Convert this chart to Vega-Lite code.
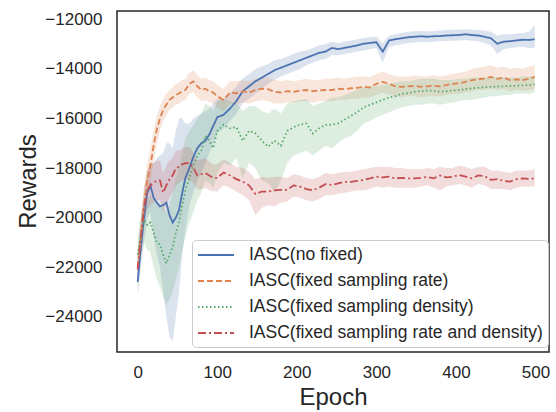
{
"$schema": "https://vega.github.io/schema/vega-lite/v6.json",
"width": 432, "height": 341,
"autosize": "none",
"padding": {"left": 117, "top": 11, "right": 7, "bottom": 60},
"background": "white",
"config": {
  "view": {"stroke": "#262626", "strokeWidth": 1.5},
  "font": "Liberation Sans",
  "axis": {"grid": false, "domain": false, "ticks": false, "labelFont": "Liberation Sans", "labelFontSize": 17, "labelColor": "#262626", "titleFont": "Liberation Sans", "titleFontSize": 24, "titleFontWeight": "normal", "titleColor": "#262626"},
  "legend": {"labelFont": "Liberation Sans", "orient": "none", "legendX": 75, "legendY": 229, "title": null, "symbolType": "M-1,0H3", "symbolSize": 324, "symbolStrokeWidth": 2, "symbolOpacity": 1, "labelFontSize": 17.5, "labelColor": "#262626", "labelLimit": 400, "fillColor": "rgba(255,255,255,0.85)", "strokeColor": "#cccccc", "cornerRadius": 4, "padding": 5, "rowPadding": 7, "labelOffset": 32}
},
"data": {"values": [
{"s":"IASC(no fixed)","e":0,"m":-22600,"l":-23200,"h":-22000},
{"s":"IASC(no fixed)","e":4,"m":-21200,"l":-22000,"h":-20500},
{"s":"IASC(no fixed)","e":8,"m":-20000,"l":-21000,"h":-19200},
{"s":"IASC(no fixed)","e":12,"m":-19000,"l":-20000,"h":-18200},
{"s":"IASC(no fixed)","e":16,"m":-18700,"l":-19800,"h":-17800},
{"s":"IASC(no fixed)","e":20,"m":-19200,"l":-20800,"h":-17800},
{"s":"IASC(no fixed)","e":24,"m":-19400,"l":-21500,"h":-17600},
{"s":"IASC(no fixed)","e":28,"m":-19550,"l":-22000,"h":-17500},
{"s":"IASC(no fixed)","e":32,"m":-19500,"l":-23000,"h":-17400},
{"s":"IASC(no fixed)","e":36,"m":-19400,"l":-24000,"h":-17000},
{"s":"IASC(no fixed)","e":40,"m":-19900,"l":-24800,"h":-17000},
{"s":"IASC(no fixed)","e":44,"m":-20200,"l":-25000,"h":-17200},
{"s":"IASC(no fixed)","e":48,"m":-20000,"l":-24000,"h":-16500},
{"s":"IASC(no fixed)","e":52,"m":-19700,"l":-23000,"h":-16000},
{"s":"IASC(no fixed)","e":56,"m":-19000,"l":-21500,"h":-16000},
{"s":"IASC(no fixed)","e":60,"m":-18400,"l":-20500,"h":-16200},
{"s":"IASC(no fixed)","e":65,"m":-18000,"l":-19500,"h":-16200},
{"s":"IASC(no fixed)","e":70,"m":-17550,"l":-19000,"h":-16000},
{"s":"IASC(no fixed)","e":75,"m":-17200,"l":-18500,"h":-15900},
{"s":"IASC(no fixed)","e":80,"m":-17000,"l":-18200,"h":-15800},
{"s":"IASC(no fixed)","e":85,"m":-16900,"l":-17800,"h":-15700},
{"s":"IASC(no fixed)","e":90,"m":-16650,"l":-17400,"h":-15600},
{"s":"IASC(no fixed)","e":95,"m":-16300,"l":-17000,"h":-15400},
{"s":"IASC(no fixed)","e":100,"m":-15950,"l":-16600,"h":-15200},
{"s":"IASC(no fixed)","e":108,"m":-15850,"l":-16400,"h":-15200},
{"s":"IASC(no fixed)","e":116,"m":-15600,"l":-16100,"h":-15000},
{"s":"IASC(no fixed)","e":124,"m":-15300,"l":-15800,"h":-14700},
{"s":"IASC(no fixed)","e":132,"m":-14900,"l":-15400,"h":-14400},
{"s":"IASC(no fixed)","e":140,"m":-14700,"l":-15200,"h":-14200},
{"s":"IASC(no fixed)","e":148,"m":-14500,"l":-15000,"h":-14000},
{"s":"IASC(no fixed)","e":156,"m":-14350,"l":-14800,"h":-13900},
{"s":"IASC(no fixed)","e":164,"m":-14200,"l":-14600,"h":-13800},
{"s":"IASC(no fixed)","e":172,"m":-14050,"l":-14450,"h":-13650},
{"s":"IASC(no fixed)","e":180,"m":-13950,"l":-14300,"h":-13600},
{"s":"IASC(no fixed)","e":188,"m":-13850,"l":-14200,"h":-13500},
{"s":"IASC(no fixed)","e":196,"m":-13750,"l":-14100,"h":-13400},
{"s":"IASC(no fixed)","e":204,"m":-13650,"l":-14000,"h":-13300},
{"s":"IASC(no fixed)","e":212,"m":-13550,"l":-13850,"h":-13250},
{"s":"IASC(no fixed)","e":220,"m":-13450,"l":-13750,"h":-13150},
{"s":"IASC(no fixed)","e":228,"m":-13350,"l":-13650,"h":-13050},
{"s":"IASC(no fixed)","e":236,"m":-13300,"l":-13600,"h":-13000},
{"s":"IASC(no fixed)","e":244,"m":-13150,"l":-13450,"h":-12900},
{"s":"IASC(no fixed)","e":252,"m":-13200,"l":-13450,"h":-12950},
{"s":"IASC(no fixed)","e":260,"m":-13150,"l":-13400,"h":-12900},
{"s":"IASC(no fixed)","e":268,"m":-13100,"l":-13350,"h":-12850},
{"s":"IASC(no fixed)","e":276,"m":-13050,"l":-13300,"h":-12800},
{"s":"IASC(no fixed)","e":284,"m":-12980,"l":-13250,"h":-12750},
{"s":"IASC(no fixed)","e":292,"m":-12950,"l":-13200,"h":-12720},
{"s":"IASC(no fixed)","e":300,"m":-12920,"l":-13150,"h":-12700},
{"s":"IASC(no fixed)","e":308,"m":-13300,"l":-13750,"h":-12950},
{"s":"IASC(no fixed)","e":316,"m":-12850,"l":-13100,"h":-12650},
{"s":"IASC(no fixed)","e":324,"m":-12800,"l":-13050,"h":-12600},
{"s":"IASC(no fixed)","e":332,"m":-12760,"l":-13000,"h":-12550},
{"s":"IASC(no fixed)","e":340,"m":-12720,"l":-12950,"h":-12500},
{"s":"IASC(no fixed)","e":348,"m":-12700,"l":-12930,"h":-12480},
{"s":"IASC(no fixed)","e":356,"m":-12680,"l":-12900,"h":-12470},
{"s":"IASC(no fixed)","e":364,"m":-12700,"l":-12920,"h":-12480},
{"s":"IASC(no fixed)","e":372,"m":-12680,"l":-12900,"h":-12470},
{"s":"IASC(no fixed)","e":380,"m":-12670,"l":-12880,"h":-12450},
{"s":"IASC(no fixed)","e":388,"m":-12650,"l":-12870,"h":-12430},
{"s":"IASC(no fixed)","e":396,"m":-12640,"l":-12860,"h":-12420},
{"s":"IASC(no fixed)","e":404,"m":-12630,"l":-12850,"h":-12420},
{"s":"IASC(no fixed)","e":412,"m":-12600,"l":-12830,"h":-12400},
{"s":"IASC(no fixed)","e":420,"m":-12630,"l":-12860,"h":-12420},
{"s":"IASC(no fixed)","e":428,"m":-12650,"l":-12880,"h":-12430},
{"s":"IASC(no fixed)","e":436,"m":-12700,"l":-12950,"h":-12460},
{"s":"IASC(no fixed)","e":444,"m":-12760,"l":-13050,"h":-12500},
{"s":"IASC(no fixed)","e":452,"m":-12980,"l":-13400,"h":-12650},
{"s":"IASC(no fixed)","e":460,"m":-12900,"l":-13200,"h":-12600},
{"s":"IASC(no fixed)","e":468,"m":-12880,"l":-13150,"h":-12600},
{"s":"IASC(no fixed)","e":476,"m":-12850,"l":-13120,"h":-12580},
{"s":"IASC(no fixed)","e":484,"m":-12820,"l":-13100,"h":-12550},
{"s":"IASC(no fixed)","e":492,"m":-12830,"l":-13150,"h":-12500},
{"s":"IASC(no fixed)","e":499,"m":-12800,"l":-13150,"h":-12250},
{"s":"IASC(fixed sampling rate)","e":0,"m":-22000,"l":-22600,"h":-21400},
{"s":"IASC(fixed sampling rate)","e":4,"m":-20800,"l":-21500,"h":-20100},
{"s":"IASC(fixed sampling rate)","e":8,"m":-19500,"l":-20200,"h":-18800},
{"s":"IASC(fixed sampling rate)","e":12,"m":-18500,"l":-19200,"h":-17800},
{"s":"IASC(fixed sampling rate)","e":16,"m":-17900,"l":-18600,"h":-17200},
{"s":"IASC(fixed sampling rate)","e":20,"m":-17100,"l":-17800,"h":-16500},
{"s":"IASC(fixed sampling rate)","e":24,"m":-16450,"l":-17000,"h":-15900},
{"s":"IASC(fixed sampling rate)","e":28,"m":-16000,"l":-16500,"h":-15500},
{"s":"IASC(fixed sampling rate)","e":32,"m":-15650,"l":-16100,"h":-15200},
{"s":"IASC(fixed sampling rate)","e":36,"m":-15450,"l":-15900,"h":-15000},
{"s":"IASC(fixed sampling rate)","e":40,"m":-15250,"l":-15650,"h":-14850},
{"s":"IASC(fixed sampling rate)","e":44,"m":-15150,"l":-15550,"h":-14750},
{"s":"IASC(fixed sampling rate)","e":48,"m":-15050,"l":-15450,"h":-14600},
{"s":"IASC(fixed sampling rate)","e":52,"m":-14980,"l":-15400,"h":-14550},
{"s":"IASC(fixed sampling rate)","e":56,"m":-14900,"l":-15300,"h":-14450},
{"s":"IASC(fixed sampling rate)","e":60,"m":-14850,"l":-15250,"h":-14400},
{"s":"IASC(fixed sampling rate)","e":65,"m":-14600,"l":-15000,"h":-14150},
{"s":"IASC(fixed sampling rate)","e":70,"m":-14500,"l":-14950,"h":-14050},
{"s":"IASC(fixed sampling rate)","e":75,"m":-14700,"l":-15150,"h":-14250},
{"s":"IASC(fixed sampling rate)","e":80,"m":-14850,"l":-15300,"h":-14400},
{"s":"IASC(fixed sampling rate)","e":85,"m":-14800,"l":-15250,"h":-14350},
{"s":"IASC(fixed sampling rate)","e":90,"m":-14900,"l":-15350,"h":-14450},
{"s":"IASC(fixed sampling rate)","e":95,"m":-14950,"l":-15400,"h":-14500},
{"s":"IASC(fixed sampling rate)","e":100,"m":-15100,"l":-15550,"h":-14650},
{"s":"IASC(fixed sampling rate)","e":108,"m":-15250,"l":-15700,"h":-14800},
{"s":"IASC(fixed sampling rate)","e":116,"m":-14950,"l":-15400,"h":-14500},
{"s":"IASC(fixed sampling rate)","e":124,"m":-14980,"l":-15450,"h":-14500},
{"s":"IASC(fixed sampling rate)","e":132,"m":-14900,"l":-15350,"h":-14450},
{"s":"IASC(fixed sampling rate)","e":140,"m":-14950,"l":-15400,"h":-14500},
{"s":"IASC(fixed sampling rate)","e":148,"m":-14850,"l":-15300,"h":-14400},
{"s":"IASC(fixed sampling rate)","e":156,"m":-14800,"l":-15250,"h":-14350},
{"s":"IASC(fixed sampling rate)","e":164,"m":-14820,"l":-15300,"h":-14350},
{"s":"IASC(fixed sampling rate)","e":172,"m":-14920,"l":-15400,"h":-14450},
{"s":"IASC(fixed sampling rate)","e":180,"m":-14950,"l":-15400,"h":-14500},
{"s":"IASC(fixed sampling rate)","e":188,"m":-14900,"l":-15350,"h":-14450},
{"s":"IASC(fixed sampling rate)","e":196,"m":-14920,"l":-15350,"h":-14500},
{"s":"IASC(fixed sampling rate)","e":204,"m":-14880,"l":-15300,"h":-14450},
{"s":"IASC(fixed sampling rate)","e":212,"m":-14850,"l":-15300,"h":-14400},
{"s":"IASC(fixed sampling rate)","e":220,"m":-14900,"l":-15350,"h":-14450},
{"s":"IASC(fixed sampling rate)","e":228,"m":-14870,"l":-15300,"h":-14450},
{"s":"IASC(fixed sampling rate)","e":236,"m":-14850,"l":-15300,"h":-14400},
{"s":"IASC(fixed sampling rate)","e":244,"m":-14850,"l":-15300,"h":-14400},
{"s":"IASC(fixed sampling rate)","e":252,"m":-14800,"l":-15250,"h":-14350},
{"s":"IASC(fixed sampling rate)","e":260,"m":-14820,"l":-15250,"h":-14400},
{"s":"IASC(fixed sampling rate)","e":268,"m":-14780,"l":-15200,"h":-14350},
{"s":"IASC(fixed sampling rate)","e":276,"m":-14760,"l":-15200,"h":-14300},
{"s":"IASC(fixed sampling rate)","e":284,"m":-14720,"l":-15150,"h":-14300},
{"s":"IASC(fixed sampling rate)","e":292,"m":-14750,"l":-15150,"h":-14350},
{"s":"IASC(fixed sampling rate)","e":300,"m":-14600,"l":-15050,"h":-14200},
{"s":"IASC(fixed sampling rate)","e":308,"m":-14520,"l":-14950,"h":-14100},
{"s":"IASC(fixed sampling rate)","e":316,"m":-14600,"l":-15050,"h":-14200},
{"s":"IASC(fixed sampling rate)","e":324,"m":-14700,"l":-15100,"h":-14300},
{"s":"IASC(fixed sampling rate)","e":332,"m":-14720,"l":-15150,"h":-14300},
{"s":"IASC(fixed sampling rate)","e":340,"m":-14700,"l":-15100,"h":-14300},
{"s":"IASC(fixed sampling rate)","e":348,"m":-14680,"l":-15100,"h":-14250},
{"s":"IASC(fixed sampling rate)","e":356,"m":-14720,"l":-15150,"h":-14300},
{"s":"IASC(fixed sampling rate)","e":364,"m":-14700,"l":-15100,"h":-14300},
{"s":"IASC(fixed sampling rate)","e":372,"m":-14680,"l":-15100,"h":-14250},
{"s":"IASC(fixed sampling rate)","e":380,"m":-14700,"l":-15100,"h":-14300},
{"s":"IASC(fixed sampling rate)","e":388,"m":-14650,"l":-15050,"h":-14250},
{"s":"IASC(fixed sampling rate)","e":396,"m":-14600,"l":-15000,"h":-14200},
{"s":"IASC(fixed sampling rate)","e":404,"m":-14580,"l":-15000,"h":-14150},
{"s":"IASC(fixed sampling rate)","e":412,"m":-14520,"l":-14950,"h":-14100},
{"s":"IASC(fixed sampling rate)","e":420,"m":-14450,"l":-14900,"h":-14000},
{"s":"IASC(fixed sampling rate)","e":428,"m":-14420,"l":-14850,"h":-13950},
{"s":"IASC(fixed sampling rate)","e":436,"m":-14380,"l":-14850,"h":-13900},
{"s":"IASC(fixed sampling rate)","e":444,"m":-14320,"l":-14800,"h":-13850},
{"s":"IASC(fixed sampling rate)","e":452,"m":-14400,"l":-14850,"h":-13950},
{"s":"IASC(fixed sampling rate)","e":460,"m":-14350,"l":-14800,"h":-13900},
{"s":"IASC(fixed sampling rate)","e":468,"m":-14450,"l":-14900,"h":-14000},
{"s":"IASC(fixed sampling rate)","e":476,"m":-14420,"l":-14850,"h":-13950},
{"s":"IASC(fixed sampling rate)","e":484,"m":-14450,"l":-14900,"h":-14000},
{"s":"IASC(fixed sampling rate)","e":492,"m":-14400,"l":-14850,"h":-13900},
{"s":"IASC(fixed sampling rate)","e":499,"m":-14320,"l":-14800,"h":-13850},
{"s":"IASC(fixed sampling density)","e":0,"m":-21500,"l":-22200,"h":-20800},
{"s":"IASC(fixed sampling density)","e":4,"m":-20700,"l":-21500,"h":-19900},
{"s":"IASC(fixed sampling density)","e":8,"m":-20100,"l":-21000,"h":-19300},
{"s":"IASC(fixed sampling density)","e":12,"m":-20300,"l":-21300,"h":-19300},
{"s":"IASC(fixed sampling density)","e":16,"m":-20200,"l":-21400,"h":-19100},
{"s":"IASC(fixed sampling density)","e":20,"m":-20600,"l":-22000,"h":-19300},
{"s":"IASC(fixed sampling density)","e":24,"m":-21000,"l":-22500,"h":-19500},
{"s":"IASC(fixed sampling density)","e":28,"m":-21100,"l":-22800,"h":-19500},
{"s":"IASC(fixed sampling density)","e":32,"m":-21500,"l":-23200,"h":-19600},
{"s":"IASC(fixed sampling density)","e":36,"m":-21850,"l":-23500,"h":-19800},
{"s":"IASC(fixed sampling density)","e":40,"m":-21500,"l":-23300,"h":-19500},
{"s":"IASC(fixed sampling density)","e":44,"m":-21200,"l":-23000,"h":-19000},
{"s":"IASC(fixed sampling density)","e":48,"m":-20600,"l":-22500,"h":-18400},
{"s":"IASC(fixed sampling density)","e":52,"m":-20200,"l":-22000,"h":-18000},
{"s":"IASC(fixed sampling density)","e":56,"m":-19500,"l":-21300,"h":-17400},
{"s":"IASC(fixed sampling density)","e":60,"m":-18900,"l":-20800,"h":-16800},
{"s":"IASC(fixed sampling density)","e":65,"m":-18400,"l":-20200,"h":-16500},
{"s":"IASC(fixed sampling density)","e":70,"m":-17900,"l":-19800,"h":-16300},
{"s":"IASC(fixed sampling density)","e":75,"m":-17500,"l":-19300,"h":-16000},
{"s":"IASC(fixed sampling density)","e":80,"m":-17300,"l":-19000,"h":-15800},
{"s":"IASC(fixed sampling density)","e":85,"m":-16700,"l":-18500,"h":-15400},
{"s":"IASC(fixed sampling density)","e":90,"m":-16900,"l":-18600,"h":-15500},
{"s":"IASC(fixed sampling density)","e":95,"m":-17200,"l":-18800,"h":-15700},
{"s":"IASC(fixed sampling density)","e":100,"m":-16500,"l":-18200,"h":-15300},
{"s":"IASC(fixed sampling density)","e":108,"m":-16250,"l":-17800,"h":-15200},
{"s":"IASC(fixed sampling density)","e":116,"m":-16400,"l":-17900,"h":-15300},
{"s":"IASC(fixed sampling density)","e":124,"m":-16350,"l":-17600,"h":-15400},
{"s":"IASC(fixed sampling density)","e":132,"m":-16900,"l":-18400,"h":-15700},
{"s":"IASC(fixed sampling density)","e":140,"m":-16500,"l":-17800,"h":-15500},
{"s":"IASC(fixed sampling density)","e":148,"m":-16600,"l":-18000,"h":-15500},
{"s":"IASC(fixed sampling density)","e":156,"m":-16900,"l":-18500,"h":-15700},
{"s":"IASC(fixed sampling density)","e":164,"m":-17140,"l":-18600,"h":-15800},
{"s":"IASC(fixed sampling density)","e":172,"m":-16900,"l":-19000,"h":-15600},
{"s":"IASC(fixed sampling density)","e":180,"m":-17100,"l":-18500,"h":-15800},
{"s":"IASC(fixed sampling density)","e":188,"m":-16500,"l":-17800,"h":-15400},
{"s":"IASC(fixed sampling density)","e":196,"m":-16350,"l":-17500,"h":-15300},
{"s":"IASC(fixed sampling density)","e":204,"m":-16250,"l":-17400,"h":-15250},
{"s":"IASC(fixed sampling density)","e":212,"m":-16200,"l":-17300,"h":-15200},
{"s":"IASC(fixed sampling density)","e":220,"m":-16600,"l":-17500,"h":-15500},
{"s":"IASC(fixed sampling density)","e":228,"m":-16400,"l":-17300,"h":-15400},
{"s":"IASC(fixed sampling density)","e":236,"m":-16260,"l":-17100,"h":-15300},
{"s":"IASC(fixed sampling density)","e":244,"m":-16250,"l":-17200,"h":-15150},
{"s":"IASC(fixed sampling density)","e":252,"m":-16200,"l":-17000,"h":-15150},
{"s":"IASC(fixed sampling density)","e":260,"m":-16050,"l":-16800,"h":-15050},
{"s":"IASC(fixed sampling density)","e":268,"m":-15900,"l":-16700,"h":-14950},
{"s":"IASC(fixed sampling density)","e":276,"m":-15750,"l":-16500,"h":-14850},
{"s":"IASC(fixed sampling density)","e":284,"m":-15550,"l":-16200,"h":-14750},
{"s":"IASC(fixed sampling density)","e":292,"m":-15450,"l":-16100,"h":-14700},
{"s":"IASC(fixed sampling density)","e":300,"m":-15350,"l":-15950,"h":-14700},
{"s":"IASC(fixed sampling density)","e":308,"m":-15250,"l":-15850,"h":-14650},
{"s":"IASC(fixed sampling density)","e":316,"m":-15150,"l":-15750,"h":-14600},
{"s":"IASC(fixed sampling density)","e":324,"m":-15100,"l":-15650,"h":-14550},
{"s":"IASC(fixed sampling density)","e":332,"m":-15000,"l":-15550,"h":-14500},
{"s":"IASC(fixed sampling density)","e":340,"m":-14980,"l":-15500,"h":-14500},
{"s":"IASC(fixed sampling density)","e":348,"m":-14920,"l":-15450,"h":-14450},
{"s":"IASC(fixed sampling density)","e":356,"m":-14900,"l":-15450,"h":-14400},
{"s":"IASC(fixed sampling density)","e":364,"m":-14870,"l":-15400,"h":-14400},
{"s":"IASC(fixed sampling density)","e":372,"m":-14880,"l":-15400,"h":-14400},
{"s":"IASC(fixed sampling density)","e":380,"m":-14920,"l":-15450,"h":-14450},
{"s":"IASC(fixed sampling density)","e":388,"m":-14900,"l":-15400,"h":-14450},
{"s":"IASC(fixed sampling density)","e":396,"m":-14870,"l":-15350,"h":-14450},
{"s":"IASC(fixed sampling density)","e":404,"m":-14850,"l":-15300,"h":-14400},
{"s":"IASC(fixed sampling density)","e":412,"m":-14820,"l":-15250,"h":-14400},
{"s":"IASC(fixed sampling density)","e":420,"m":-14780,"l":-15250,"h":-14350},
{"s":"IASC(fixed sampling density)","e":428,"m":-14760,"l":-15200,"h":-14350},
{"s":"IASC(fixed sampling density)","e":436,"m":-14740,"l":-15150,"h":-14350},
{"s":"IASC(fixed sampling density)","e":444,"m":-14720,"l":-15100,"h":-14350},
{"s":"IASC(fixed sampling density)","e":452,"m":-14710,"l":-15100,"h":-14350},
{"s":"IASC(fixed sampling density)","e":460,"m":-14700,"l":-15050,"h":-14350},
{"s":"IASC(fixed sampling density)","e":468,"m":-14690,"l":-15050,"h":-14350},
{"s":"IASC(fixed sampling density)","e":476,"m":-14680,"l":-15000,"h":-14350},
{"s":"IASC(fixed sampling density)","e":484,"m":-14660,"l":-15000,"h":-14300},
{"s":"IASC(fixed sampling density)","e":492,"m":-14650,"l":-15000,"h":-14300},
{"s":"IASC(fixed sampling density)","e":499,"m":-14620,"l":-14950,"h":-14300},
{"s":"IASC(fixed sampling rate and density)","e":0,"m":-22100,"l":-22800,"h":-21400},
{"s":"IASC(fixed sampling rate and density)","e":4,"m":-20800,"l":-21600,"h":-20000},
{"s":"IASC(fixed sampling rate and density)","e":8,"m":-19600,"l":-20400,"h":-18800},
{"s":"IASC(fixed sampling rate and density)","e":12,"m":-18900,"l":-19700,"h":-18100},
{"s":"IASC(fixed sampling rate and density)","e":16,"m":-18700,"l":-19500,"h":-17900},
{"s":"IASC(fixed sampling rate and density)","e":20,"m":-18600,"l":-19400,"h":-17800},
{"s":"IASC(fixed sampling rate and density)","e":24,"m":-18500,"l":-19300,"h":-17700},
{"s":"IASC(fixed sampling rate and density)","e":28,"m":-18500,"l":-19300,"h":-17700},
{"s":"IASC(fixed sampling rate and density)","e":32,"m":-19000,"l":-19800,"h":-18200},
{"s":"IASC(fixed sampling rate and density)","e":36,"m":-18700,"l":-19500,"h":-17900},
{"s":"IASC(fixed sampling rate and density)","e":40,"m":-18450,"l":-19200,"h":-17700},
{"s":"IASC(fixed sampling rate and density)","e":44,"m":-18300,"l":-19000,"h":-17600},
{"s":"IASC(fixed sampling rate and density)","e":48,"m":-18000,"l":-18700,"h":-17300},
{"s":"IASC(fixed sampling rate and density)","e":52,"m":-17950,"l":-18600,"h":-17300},
{"s":"IASC(fixed sampling rate and density)","e":56,"m":-17850,"l":-18500,"h":-17200},
{"s":"IASC(fixed sampling rate and density)","e":60,"m":-17800,"l":-18450,"h":-17150},
{"s":"IASC(fixed sampling rate and density)","e":65,"m":-17800,"l":-18450,"h":-17150},
{"s":"IASC(fixed sampling rate and density)","e":70,"m":-18000,"l":-18600,"h":-17400},
{"s":"IASC(fixed sampling rate and density)","e":75,"m":-18300,"l":-18900,"h":-17700},
{"s":"IASC(fixed sampling rate and density)","e":80,"m":-18250,"l":-18850,"h":-17650},
{"s":"IASC(fixed sampling rate and density)","e":85,"m":-18200,"l":-18800,"h":-17600},
{"s":"IASC(fixed sampling rate and density)","e":90,"m":-18300,"l":-18900,"h":-17750},
{"s":"IASC(fixed sampling rate and density)","e":95,"m":-18400,"l":-18950,"h":-17850},
{"s":"IASC(fixed sampling rate and density)","e":100,"m":-18400,"l":-18950,"h":-17850},
{"s":"IASC(fixed sampling rate and density)","e":108,"m":-18180,"l":-18700,"h":-17650},
{"s":"IASC(fixed sampling rate and density)","e":116,"m":-18300,"l":-18800,"h":-17800},
{"s":"IASC(fixed sampling rate and density)","e":124,"m":-18450,"l":-18950,"h":-17950},
{"s":"IASC(fixed sampling rate and density)","e":132,"m":-18550,"l":-19100,"h":-18000},
{"s":"IASC(fixed sampling rate and density)","e":140,"m":-18700,"l":-19300,"h":-18150},
{"s":"IASC(fixed sampling rate and density)","e":148,"m":-19050,"l":-19900,"h":-18450},
{"s":"IASC(fixed sampling rate and density)","e":156,"m":-18950,"l":-19600,"h":-18350},
{"s":"IASC(fixed sampling rate and density)","e":164,"m":-18950,"l":-19500,"h":-18400},
{"s":"IASC(fixed sampling rate and density)","e":172,"m":-18900,"l":-19550,"h":-18350},
{"s":"IASC(fixed sampling rate and density)","e":180,"m":-18880,"l":-19400,"h":-18350},
{"s":"IASC(fixed sampling rate and density)","e":188,"m":-18880,"l":-19350,"h":-18400},
{"s":"IASC(fixed sampling rate and density)","e":196,"m":-18700,"l":-19150,"h":-18250},
{"s":"IASC(fixed sampling rate and density)","e":204,"m":-18750,"l":-19200,"h":-18300},
{"s":"IASC(fixed sampling rate and density)","e":212,"m":-18850,"l":-19300,"h":-18400},
{"s":"IASC(fixed sampling rate and density)","e":220,"m":-18900,"l":-19350,"h":-18450},
{"s":"IASC(fixed sampling rate and density)","e":228,"m":-18800,"l":-19250,"h":-18350},
{"s":"IASC(fixed sampling rate and density)","e":236,"m":-18650,"l":-19100,"h":-18200},
{"s":"IASC(fixed sampling rate and density)","e":244,"m":-18680,"l":-19100,"h":-18250},
{"s":"IASC(fixed sampling rate and density)","e":252,"m":-18620,"l":-19050,"h":-18200},
{"s":"IASC(fixed sampling rate and density)","e":260,"m":-18560,"l":-19000,"h":-18150},
{"s":"IASC(fixed sampling rate and density)","e":268,"m":-18560,"l":-18950,"h":-18150},
{"s":"IASC(fixed sampling rate and density)","e":276,"m":-18520,"l":-18900,"h":-18100},
{"s":"IASC(fixed sampling rate and density)","e":284,"m":-18480,"l":-18900,"h":-18050},
{"s":"IASC(fixed sampling rate and density)","e":292,"m":-18420,"l":-18850,"h":-18000},
{"s":"IASC(fixed sampling rate and density)","e":300,"m":-18350,"l":-18750,"h":-17950},
{"s":"IASC(fixed sampling rate and density)","e":308,"m":-18380,"l":-18800,"h":-17950},
{"s":"IASC(fixed sampling rate and density)","e":316,"m":-18350,"l":-18750,"h":-17950},
{"s":"IASC(fixed sampling rate and density)","e":324,"m":-18420,"l":-18800,"h":-18000},
{"s":"IASC(fixed sampling rate and density)","e":332,"m":-18400,"l":-18800,"h":-18000},
{"s":"IASC(fixed sampling rate and density)","e":340,"m":-18420,"l":-18800,"h":-18050},
{"s":"IASC(fixed sampling rate and density)","e":348,"m":-18420,"l":-18800,"h":-18050},
{"s":"IASC(fixed sampling rate and density)","e":356,"m":-18400,"l":-18750,"h":-18050},
{"s":"IASC(fixed sampling rate and density)","e":364,"m":-18360,"l":-18700,"h":-18000},
{"s":"IASC(fixed sampling rate and density)","e":372,"m":-18420,"l":-18800,"h":-18050},
{"s":"IASC(fixed sampling rate and density)","e":380,"m":-18300,"l":-18900,"h":-17950},
{"s":"IASC(fixed sampling rate and density)","e":388,"m":-18380,"l":-18750,"h":-18000},
{"s":"IASC(fixed sampling rate and density)","e":396,"m":-18350,"l":-18700,"h":-18000},
{"s":"IASC(fixed sampling rate and density)","e":404,"m":-18280,"l":-18650,"h":-17900},
{"s":"IASC(fixed sampling rate and density)","e":412,"m":-18350,"l":-18700,"h":-17950},
{"s":"IASC(fixed sampling rate and density)","e":420,"m":-18420,"l":-18800,"h":-18050},
{"s":"IASC(fixed sampling rate and density)","e":428,"m":-18300,"l":-18650,"h":-17950},
{"s":"IASC(fixed sampling rate and density)","e":436,"m":-18330,"l":-18700,"h":-17950},
{"s":"IASC(fixed sampling rate and density)","e":444,"m":-18480,"l":-18850,"h":-18100},
{"s":"IASC(fixed sampling rate and density)","e":452,"m":-18450,"l":-18850,"h":-18100},
{"s":"IASC(fixed sampling rate and density)","e":460,"m":-18520,"l":-18850,"h":-18150},
{"s":"IASC(fixed sampling rate and density)","e":468,"m":-18550,"l":-18900,"h":-18200},
{"s":"IASC(fixed sampling rate and density)","e":476,"m":-18450,"l":-18800,"h":-18100},
{"s":"IASC(fixed sampling rate and density)","e":484,"m":-18420,"l":-18750,"h":-18100},
{"s":"IASC(fixed sampling rate and density)","e":492,"m":-18440,"l":-18750,"h":-18100},
{"s":"IASC(fixed sampling rate and density)","e":499,"m":-18420,"l":-18750,"h":-18050}
]},
"encoding": {
  "x": {"field": "e", "type": "quantitative", "scale": {"domain": [-26, 517], "nice": false, "zero": false},
        "axis": {"values": [0, 100, 200, 300, 400, 500], "title": "Epoch", "labelPadding": 12, "titleY": 45, "titleBaseline": "middle", "titlePadding": 0}},
  "color": {"field": "s", "type": "nominal",
            "scale": {"domain": ["IASC(no fixed)", "IASC(fixed sampling rate)", "IASC(fixed sampling density)", "IASC(fixed sampling rate and density)"], "range": ["#4c72b0", "#dd8452", "#55a868", "#c44e52"]}}
},
"layer": [
  {"mark": {"type": "area", "fillOpacity": 0.2, "interpolate": "linear"},
   "encoding": {
     "y": {"field": "l", "type": "quantitative", "scale": {"domain": [-25430, -11660], "nice": false, "zero": false},
           "axis": {"values": [-24000, -22000, -20000, -18000, -16000, -14000, -12000], "format": "d", "title": "Rewards", "labelPadding": 15, "titleX": -89, "titleY": 170, "titleAngle": -90, "titleAlign": "center", "titleBaseline": "middle"}},
     "y2": {"field": "h"}
   }},
  {"mark": {"type": "line", "strokeWidth": 1.8},
   "encoding": {
     "y": {"field": "m", "type": "quantitative",
           "axis": {"values": [-24000, -22000, -20000, -18000, -16000, -14000, -12000], "format": "d", "title": "Rewards", "labelPadding": 15, "titleX": -89, "titleY": 170, "titleAngle": -90, "titleAlign": "center", "titleBaseline": "middle"}},
     "strokeDash": {"field": "s", "type": "nominal",
                    "scale": {"domain": ["IASC(no fixed)", "IASC(fixed sampling rate)", "IASC(fixed sampling density)", "IASC(fixed sampling rate and density)"], "range": [[1, 0], [6, 3], [1.5, 2.5], [8, 3, 2, 3]]}}
   }}
]
}
